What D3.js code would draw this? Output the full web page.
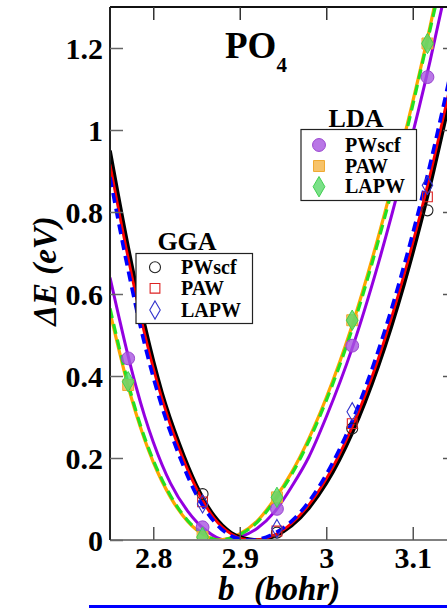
<!DOCTYPE html>
<html><head><meta charset="utf-8">
<script src="https://cdn.jsdelivr.net/npm/d3@7"></script>
<style>body{margin:0;background:#fff;overflow:hidden}svg{display:block}
.sf{font-family:"Liberation Serif","Times New Roman",Tinos,"DejaVu Serif","Noto Serif",serif;font-weight:bold}</style>
</head><body><svg id="c" width="447" height="608"></svg>
<script>
// ---- data ----
const xTicks = [2.8, 2.9, 3.0, 3.1];
const xTickLabels = ["2.8", "2.9", "3", "3.1"];
const yTicks = [0, 0.2, 0.4, 0.6, 0.8, 1.0, 1.2];
const yTickLabels = ["0", "0.2", "0.4", "0.6", "0.8", "1", "1.2"];

// fitted curves
const ggaPwscfCurveX = [2.75,2.77,2.79,2.81,2.83,2.85,2.87,2.89,2.905,2.92,2.94,2.96,2.98,3.00,3.03,3.06,3.09,3.12,3.15];
const ggaPwscfCurveY = [0.95,0.725,0.525,0.36,0.235,0.133,0.06,0.018,0.004,0,0.009,0.035,0.078,0.138,0.261,0.423,0.624,0.864,1.143];
const ggaPawCurveX = [2.75,2.77,2.79,2.81,2.83,2.85,2.87,2.89,2.903,2.917,2.94,2.96,2.98,3.00,3.03,3.06,3.09,3.12,3.15];
const ggaPawCurveY = [0.916,0.698,0.503,0.345,0.222,0.125,0.054,0.015,0.003,0,0.012,0.041,0.086,0.149,0.276,0.441,0.647,0.89,1.173];
const ggaLapwCurveX = [2.75,2.77,2.79,2.81,2.83,2.85,2.87,2.89,2.90,2.914,2.94,2.96,2.98,3.00,3.03,3.06,3.09,3.12,3.15];
const ggaLapwCurveY = [0.885,0.668,0.478,0.325,0.206,0.11,0.046,0.01,0.003,0,0.016,0.046,0.094,0.16,0.29,0.461,0.67,0.916,1.2];

const ldaPwscfCurveX = [2.75,2.76,2.77,2.78,2.79,2.80,2.82,2.84,2.86,2.883,2.90,2.92,2.94,2.96,2.98,3.00,3.03,3.06,3.09,3.12,3.14];
const ldaPwscfCurveY = [0.64,0.547,0.457,0.375,0.302,0.239,0.138,0.07,0.025,0,0.007,0.028,0.068,0.13,0.203,0.3,0.468,0.673,0.908,1.168,1.36];
const ldaPawCurveX = [2.75,2.76,2.77,2.78,2.79,2.80,2.82,2.84,2.86,2.874,2.90,2.92,2.94,2.96,2.98,3.00,3.03,3.06,3.09,3.12,3.14];
const ldaPawCurveY = [0.555,0.467,0.382,0.309,0.245,0.19,0.104,0.045,0.011,0,0.015,0.046,0.099,0.165,0.248,0.347,0.524,0.738,0.982,1.252,1.45];
const ldaLapwCurveX = [2.75,2.76,2.77,2.78,2.79,2.80,2.82,2.84,2.86,2.875,2.90,2.92,2.94,2.96,2.98,3.00,3.03,3.06,3.09,3.12,3.14];
const ldaLapwCurveY = [0.565,0.475,0.39,0.315,0.25,0.195,0.108,0.047,0.012,0,0.013,0.043,0.095,0.16,0.242,0.34,0.515,0.728,0.972,1.245,1.43];

// computed points (markers)
const ggaPointX = [2.857, 2.943, 3.03, 3.117];
const ggaPwscfY = [0.112, 0.018, 0.272, 0.804];
const ggaPawY   = [0.093, 0.022, 0.284, 0.837];
const ggaLapwY  = [0.088, 0.028, 0.313, 0.865];

const ldaPointX = [2.771, 2.857, 2.943, 3.03, 3.117];
const ldaPwscfY = [0.443, 0.031, 0.076, 0.474, 1.129];
const ldaPawY   = [0.378, 0.007, 0.104, 0.536, 1.211];
const ldaLapwY  = [0.386, 0.007, 0.104, 0.536, 1.211];

const legendLabels = ["PWscf", "PAW", "LAPW"];

// ---- drawing ----
const svg = d3.select("#c");
const L = 110, R = 456, T = 7, B = 540;
const x = d3.scaleLinear().domain([2.75, 3.15]).range([L, R]);
const y = d3.scaleLinear().domain([0, 1.3]).range([B, T]);

svg.append("defs").append("clipPath").attr("id", "clip")
  .append("rect").attr("x", L).attr("y", T).attr("width", R - L).attr("height", B - T);

const plot = svg.append("g").attr("clip-path", "url(#clip)");
const line = d3.line().x(d => x(d[0])).y(d => y(d[1])).curve(d3.curveMonotoneX);
const zip = (xs, ys) => xs.map((v, i) => [v, ys[i]]);

function drawCurve(xs, ys, color, width, dash) {
  plot.append("path").datum(zip(xs, ys)).attr("d", line)
    .attr("fill", "none").attr("stroke", color).attr("stroke-width", width)
    .attr("stroke-dasharray", dash || null).attr("stroke-linejoin", "round");
}

const C = {
  black: "#000000", red: "#ff0000", blue: "#0000ff",
  purple: "#9400e0", orange: "#ffa500", green: "#22e022"
};

// LDA
drawCurve(ldaPwscfCurveX, ldaPwscfCurveY, C.purple, 3);
drawCurve(ldaPawCurveX, ldaPawCurveY, C.orange, 3.2);
drawCurve(ldaLapwCurveX, ldaLapwCurveY, C.green, 3.2, "10,6");
// GGA
drawCurve(ggaPwscfCurveX, ggaPwscfCurveY, C.black, 3.6);
drawCurve(ggaPawCurveX, ggaPawCurveY, C.red, 2.8);
drawCurve(ggaLapwCurveX, ggaLapwCurveY, C.blue, 3.6, "10,6");

// markers
const sym = {
  circle: d3.symbol().type(d3.symbolCircle),
  square: d3.symbol().type(d3.symbolSquare),
  diamond: d3.symbol().type(d3.symbolDiamond)
};
function markers(g, xs, ys, type, size, fill, stroke, sw, op) {
  g.selectAll(null).data(zip(xs, ys)).join("path")
    .attr("transform", d => `translate(${x(d[0])},${y(d[1])})`)
    .attr("d", sym[type].size(size)())
    .attr("fill", fill).attr("fill-opacity", op == null ? 1 : op)
    .attr("stroke", stroke).attr("stroke-width", sw);
}
const mk = plot.append("g");
const mStyle = {
  ldaPwscf: ["circle", 130, "#a855e0", "#9a45d0", 1, 0.8],
  ldaPaw: ["square", 120, "#f5b445", "#f0a830", 1, 0.8],
  ldaLapw: ["diamond", 120, "#5ad86a", "#40d050", 1, 0.8],
  ggaPwscf: ["circle", 95, "none", "#222", 1.1],
  ggaPaw: ["square", 95, "none", "#dd2222", 1.1],
  ggaLapw: ["diamond", 95, "none", "#3333cc", 1.1]
};
markers(mk, ldaPointX, ldaPwscfY, ...mStyle.ldaPwscf);
markers(mk, ldaPointX, ldaPawY, ...mStyle.ldaPaw);
markers(mk, ldaPointX, ldaLapwY, ...mStyle.ldaLapw);
markers(mk, ggaPointX, ggaPwscfY, ...mStyle.ggaPwscf);
markers(mk, ggaPointX, ggaPawY, ...mStyle.ggaPaw);
markers(mk, ggaPointX, ggaLapwY, ...mStyle.ggaLapw);

// axes frame
const tickLen = 13;
const ax = svg.append("g");
ax.append("line").attr("x1", L).attr("x2", 447).attr("y1", B).attr("y2", B).attr("stroke", "#808080").attr("stroke-width", 2);
ax.append("line").attr("x1", L).attr("x2", 447).attr("y1", T).attr("y2", T).attr("stroke", "#111").attr("stroke-width", 2);
ax.append("line").attr("x1", L).attr("x2", L).attr("y1", T).attr("y2", B).attr("stroke", "#222").attr("stroke-width", 2);
ax.append("line").attr("x1", R).attr("x2", R).attr("y1", T).attr("y2", B).attr("stroke", "#222").attr("stroke-width", 2);

// ticks via d3 axes
const bottomAxis = d3.axisBottom(x).tickValues(xTicks).tickSizeInner(-tickLen).tickSizeOuter(0)
  .tickFormat((d, i) => xTickLabels[i]).tickPadding(tickLen + 10);
const gb = svg.append("g").attr("transform", `translate(0,${B})`).call(bottomAxis);
gb.select(".domain").remove();
gb.attr("font-family", null).attr("font-size", null);
gb.selectAll(".tick line").attr("stroke", "#555").attr("stroke-width", 1.5);
gb.selectAll(".tick text").attr("class", "sf").attr("font-size", 30).attr("fill", "#000").attr("dy", null).attr("y", 28);

const topAxis = d3.axisTop(x).tickValues(xTicks).tickSizeInner(-tickLen).tickSizeOuter(0).tickFormat("");
const gt = svg.append("g").attr("transform", `translate(0,${T})`).call(topAxis);
gt.select(".domain").remove();
gt.selectAll(".tick line").attr("stroke", "#333").attr("stroke-width", 1.5);

const leftAxis = d3.axisLeft(y).tickValues(yTicks).tickSizeInner(-tickLen).tickSizeOuter(0)
  .tickFormat((d, i) => yTickLabels[i]);
const gl = svg.append("g").attr("transform", `translate(${L},0)`).call(leftAxis);
gl.select(".domain").remove();
gl.attr("font-family", null).attr("font-size", null);
gl.selectAll(".tick line").attr("stroke", "#666").attr("stroke-width", 1.5);
gl.selectAll(".tick text").attr("class", "sf").attr("font-size", 30).attr("fill", "#000").attr("x", -7).attr("dy", "0.34em");

const rightAxis = d3.axisRight(y).tickValues(yTicks.filter(v => v > 0)).tickSizeInner(-tickLen).tickSizeOuter(0).tickFormat("");
const gr = svg.append("g").attr("transform", `translate(${R},0)`).call(rightAxis);
gr.select(".domain").remove();
gr.selectAll(".tick line").attr("stroke", "#555").attr("stroke-width", 1.5);

// titles
const t = svg.append("text").attr("class", "sf").attr("x", 225).attr("y", 58).attr("font-size", 37);
t.append("tspan").text("PO");
t.append("tspan").attr("font-size", 21).attr("dy", 14).text("4");

svg.append("text").attr("class", "sf").attr("transform", "translate(56,271) rotate(-90)")
  .attr("text-anchor", "middle").attr("font-style", "italic").attr("font-size", 33).text("ΔE (eV)");

const xt = svg.append("text").attr("class", "sf").attr("y", 600)
  .attr("font-style", "italic").attr("font-size", 33);
xt.append("tspan").attr("x", 218).text("b");
xt.append("tspan").attr("x", 254).text("(bohr)");

// legends
function legend(title, tx, ty, box, rowsY, mx, textX, styles) {
  svg.append("text").attr("class", "sf").attr("x", tx).attr("y", ty).attr("text-anchor", "middle")
    .attr("font-size", 26).text(title);
  svg.append("rect").attr("x", box[0]).attr("y", box[1]).attr("width", box[2]).attr("height", box[3])
    .attr("fill", "#fff").attr("stroke", "#222").attr("stroke-width", 1.2);
  const g = svg.append("g");
  styles.forEach((s, i) => {
    markers(g, [x.invert(mx)], [y.invert(rowsY[i])], ...s);
    g.append("text").attr("class", "sf").attr("x", textX).attr("y", rowsY[i]).attr("dy", "0.33em")
      .attr("font-size", 20).text(legendLabels[i]);
  });
}
legend("LDA", 356, 127, [301, 129.5, 115.5, 71], [145, 166, 186.7], 319, 345,
  [mStyle.ldaPwscf, mStyle.ldaPaw, mStyle.ldaLapw]);
legend("GGA", 187, 250, [136, 253.5, 116.5, 70], [267.3, 288.3, 310], 155, 181,
  [mStyle.ggaPwscf, mStyle.ggaPaw, mStyle.ggaLapw]);

// blue bar at bottom
svg.append("rect").attr("x", 89).attr("y", 605).attr("width", 358).attr("height", 3).attr("fill", "#0000ff");
</script></body></html>
